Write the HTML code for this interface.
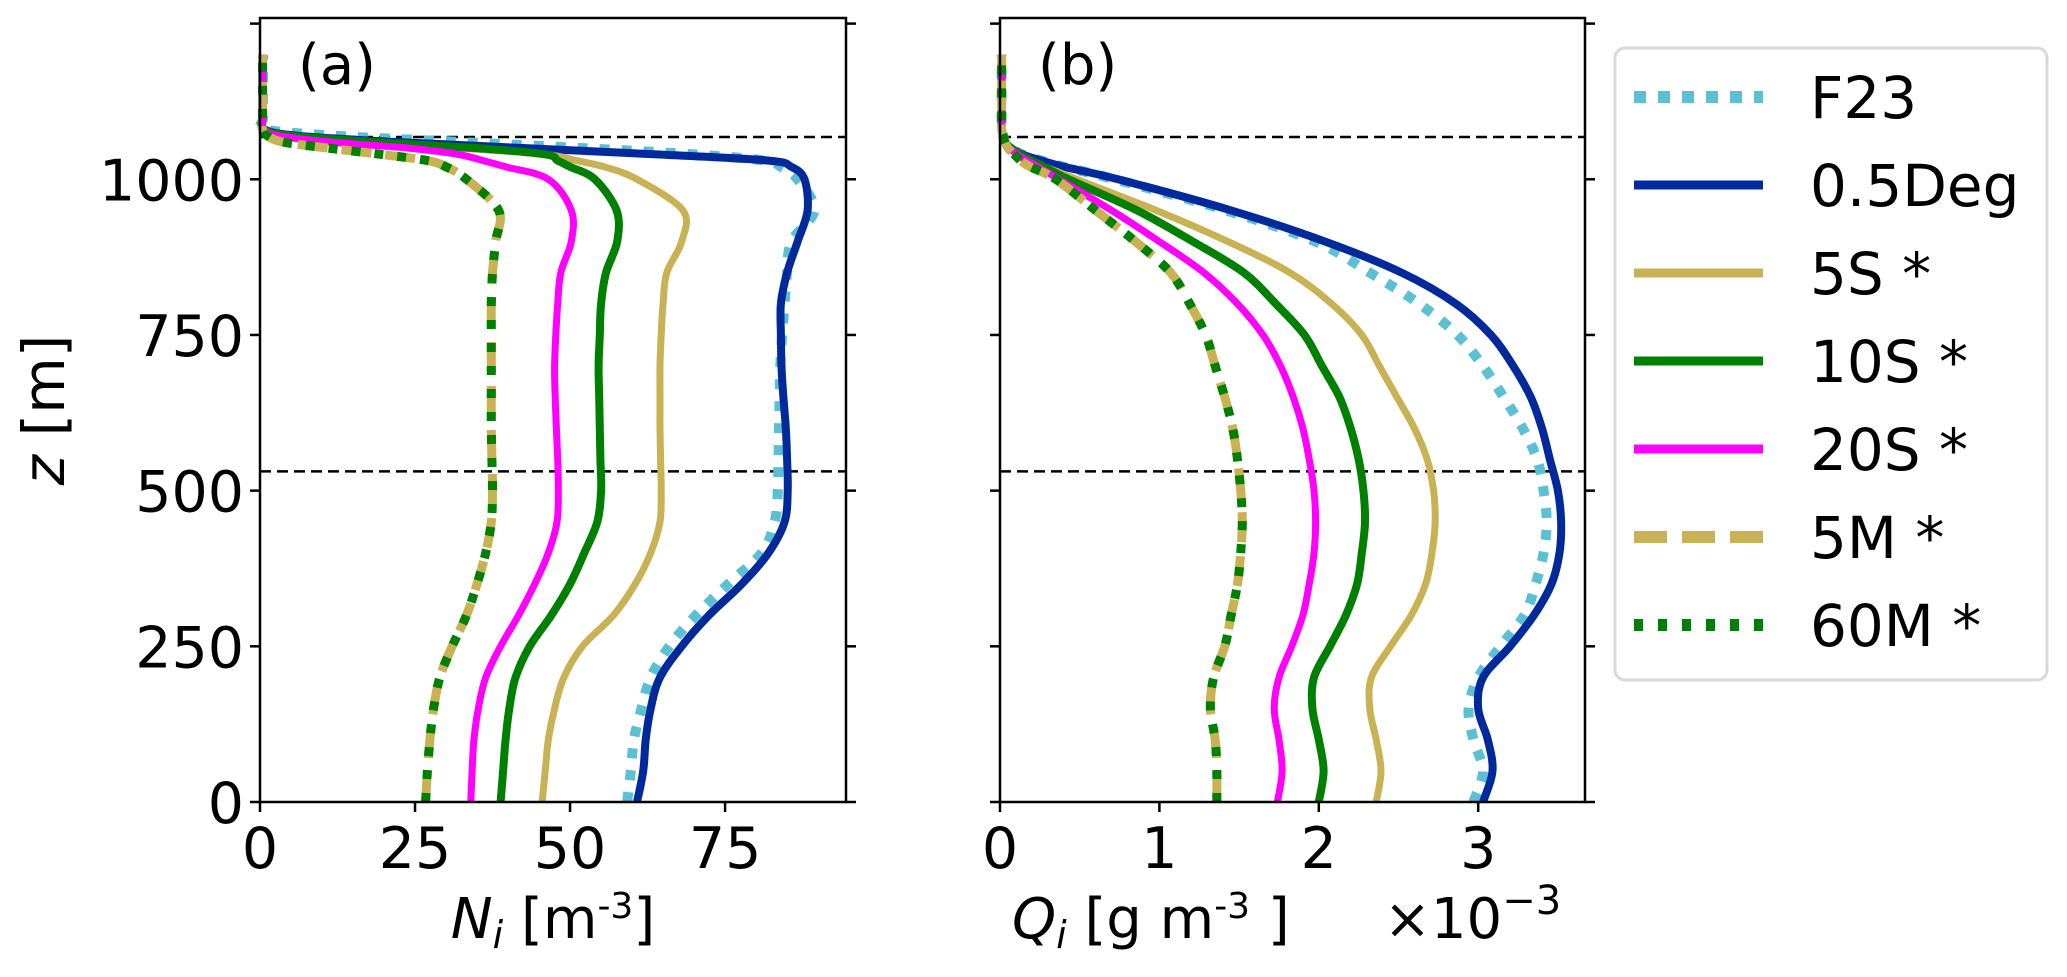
<!DOCTYPE html>
<html><head><meta charset="utf-8">
<style>
html,body{margin:0;padding:0;background:#fff;}
svg{display:block;font-family:"DejaVu Sans","Liberation Sans",sans-serif;}
</style></head>
<body>
<svg id="chart" width="2067" height="977" viewBox="0 0 2067 977" xmlns="http://www.w3.org/2000/svg">
<rect x="0" y="0" width="2067" height="977" fill="#fff"/>
<g id="panelA"></g>
<g id="panelB"></g>
<g id="legend"></g>
<text x="48" y="410" font-size="58" text-anchor="middle" transform="rotate(-90 48 410)" dominant-baseline="middle"><tspan font-style="italic">z</tspan> [m]</text>
<text x="553" y="938" font-size="56" text-anchor="middle"><tspan font-style="italic">N</tspan><tspan font-style="italic" font-size="38" dy="10">i</tspan><tspan dy="-10"> [m</tspan><tspan font-size="36" dy="-20">-3</tspan><tspan dy="20">]</tspan></text>
<text x="1012" y="938" font-size="56"><tspan font-style="italic">Q</tspan><tspan font-style="italic" font-size="38" dy="10">i</tspan><tspan dy="-10"> [g m</tspan><tspan font-size="36" dy="-20">-3</tspan><tspan dy="20"> ]</tspan></text>
<text x="1384" y="938" font-size="56">×10<tspan font-size="40" dy="-24">−3</tspan></text>
</svg>
<script>
// ---- data ----
const zLevels = [0,50,100,150,200,250,300,350,400,450,500,550,600,650,700,750,800,850,900,950,1000,1020,1030,1040,1050,1060,1070,1080,1100,1150,1200];
const seriesNames = ["F23","0.5Deg","5S *","10S *","20S *","5M *","60M *"];
// Panel (a): N_i [m^-3]
const nF23  = [59.2,59.8,60.3,61.5,63,66,70.3,75.5,80.9,83,83.5,83.6,83.7,83.8,83.9,84.2,84.6,85,85.7,89.4,86.7,84,81.4,70,52,32,12,1,0.5,0.5,0.5];
const nDeg  = [60.8,61.8,62.2,63,64.5,68,72.4,77.7,82,84.6,85.1,85,84.8,84.4,84.1,84,84,85,86.7,88.3,87.8,85.7,82,64,42.8,21.6,6,0.8,0.4,0.4,0.4];
const n5S   = [45.5,46,46.5,47.5,49,52,57,60.5,63,64.5,64.7,64.6,64.5,64.5,64.5,64.7,65,65.6,68,68.2,60.8,55.5,51,46,32,11,3,0.6,0.4,0.4,0.4];
const n10S  = [38.8,39.2,39.6,40.2,41.2,43.5,47,50,52.3,54.4,55,54.9,54.8,54.7,54.6,54.8,55,55.8,57.6,57.5,54,50,48,46,35,18,5,0.6,0.4,0.4,0.4];
const n20S  = [34,34.2,34.5,35.2,36.4,38.8,41.7,44.3,46.5,47.9,48.1,48,47.8,47.6,47.5,47.7,48,48.5,50.2,50.2,46.5,39.6,36,32,24,11,3,0.6,0.4,0.4,0.4];
const n5M   = [26.7,27,27.4,28,29,31,33.3,35,36.4,37.3,37.5,37.4,37.3,37.3,37.3,37.3,37.3,37.5,38,38.5,33.3,30,27,19.5,11,3.6,1.2,0.4,0.4,0.4,0.4];
const n60M  = [26.7,27,27.4,28,29,31,33.3,35,36.4,37.3,37.5,37.4,37.3,37.3,37.3,37.3,37.3,37.5,38,38.5,33.3,30,27,19.5,11,3.6,1.2,0.4,0.4,0.4,0.4];
// Panel (b): Q_i [g m^-3] x 1e-3
const qF23  = [2.97,3.03,2.97,2.94,3.0,3.14,3.29,3.36,3.41,3.43,3.41,3.37,3.28,3.16,3.03,2.87,2.63,2.32,1.98,1.42,0.72,0.4,0.26,0.14,0.07,0.03,0.02,0.01,0.01,0.01,0.01];
const qDeg  = [3.03,3.09,3.06,3.0,3.03,3.2,3.35,3.46,3.51,3.52,3.5,3.45,3.4,3.33,3.22,3.08,2.86,2.52,2.04,1.45,0.74,0.4,0.26,0.14,0.07,0.03,0.02,0.01,0.01,0.01,0.01];
const q5S   = [2.36,2.39,2.36,2.32,2.33,2.45,2.58,2.67,2.71,2.73,2.72,2.68,2.6,2.49,2.38,2.27,2.08,1.82,1.43,0.98,0.48,0.28,0.16,0.1,0.06,0.03,0.02,0.01,0.01,0.01,0.01];
const q10S  = [2.0,2.03,2.0,1.96,1.97,2.07,2.17,2.24,2.27,2.29,2.28,2.25,2.2,2.13,2.02,1.91,1.73,1.53,1.21,0.86,0.43,0.28,0.2,0.13,0.07,0.03,0.02,0.01,0.01,0.01,0.01];
const q20S  = [1.74,1.77,1.75,1.72,1.75,1.83,1.9,1.94,1.97,1.98,1.97,1.94,1.9,1.84,1.76,1.65,1.49,1.28,1.0,0.7,0.37,0.24,0.17,0.11,0.06,0.03,0.02,0.01,0.01,0.01,0.01];
const q5M   = [1.36,1.36,1.35,1.32,1.34,1.41,1.45,1.49,1.51,1.52,1.51,1.49,1.46,1.41,1.35,1.29,1.19,1.07,0.85,0.6,0.35,0.19,0.13,0.09,0.05,0.03,0.02,0.01,0.01,0.01,0.01];
const q60M  = [1.36,1.36,1.35,1.32,1.34,1.41,1.45,1.49,1.51,1.52,1.51,1.49,1.46,1.41,1.35,1.29,1.19,1.07,0.85,0.6,0.35,0.19,0.13,0.09,0.05,0.03,0.02,0.01,0.01,0.01,0.01];
const yTicks = [0,250,500,750,1000,1250];
const yTickLabels = ["0","250","500","750","1000",""];
const xTicksA = [0,25,50,75];
const xTicksB = [0,1,2,3];
const refLines = [1068,531];

// ---- styles ----
const styles = [
  {color:"#5bc0d3", w:10, dash:"10 12", cap:"butt"},
  {color:"#00299b", w:8, dash:null},
  {color:"#c8b253", w:7, dash:null},
  {color:"#008000", w:8, dash:null},
  {color:"#ff00ff", w:7, dash:null},
  {color:"#c8b253", w:9, dash:"30 14"},
  {color:"#008000", w:9, dash:"9 14"}
];
const NS = "http://www.w3.org/2000/svg";
function el(tag, attrs, parent){const e=document.createElementNS(NS,tag);for(const k in attrs)e.setAttribute(k,attrs[k]);parent.appendChild(e);return e;}

const plotTop=18, plotBot=802, zMax=1259;
function yScale(z){return plotBot-(z/zMax)*(plotBot-plotTop);}

function smoothPath(pts){
  let d="M"+pts[0][0].toFixed(1)+","+pts[0][1].toFixed(1);
  for(let i=0;i<pts.length-1;i++){
    const p0=pts[i-1]||pts[i],p1=pts[i],p2=pts[i+1],p3=pts[i+2]||p2;
    const c1=[p1[0]+(p2[0]-p0[0])/6,p1[1]+(p2[1]-p0[1])/6];
    const c2=[p2[0]-(p3[0]-p1[0])/6,p2[1]-(p3[1]-p1[1])/6];
    d+=" C"+c1[0].toFixed(1)+","+c1[1].toFixed(1)+" "+c2[0].toFixed(1)+","+c2[1].toFixed(1)+" "+p2[0].toFixed(1)+","+p2[1].toFixed(1);
  }
  return d;
}

function drawPanel(g, left, right, xMax, xTicks, series, label, key){
  const xScale=v=>left+(v/xMax)*(right-left);
  refLines.forEach((z,i)=>{
    const l=el("line",{x1:left,x2:right,y1:yScale(z),y2:yScale(z),stroke:"#000","stroke-width":2.5,"stroke-dasharray":"11 6"},g);
    
    
  });
  series.forEach((vals,si)=>{
    const pts=vals.map((v,i)=>[xScale(v),yScale(zLevels[i])]);
    const st=styles[si];
    const p=el("path",{d:smoothPath(pts),fill:"none",stroke:st.color,"stroke-width":st.w,"stroke-linejoin":"round","stroke-linecap":st.cap||"butt"},g);
    if(st.dash)p.setAttribute("stroke-dasharray",st.dash);
    
    
  });
  const fr=el("rect",{x:left,y:plotTop,width:right-left,height:plotBot-plotTop,fill:"none",stroke:"#000","stroke-width":2.5},g);
  
  
  xTicks.forEach(t=>{
    const x=xScale(t);
    el("line",{x1:x,x2:x,y1:plotBot,y2:plotBot+10,stroke:"#000","stroke-width":2.5},g);
    const tx=el("text",{x:x,y:868,"font-size":57,"text-anchor":"middle"},g);
    tx.textContent=String(t);
    
    
  });
  yTicks.forEach((t,i)=>{
    const y=yScale(t);
    el("line",{x1:left-10,x2:left,y1:y,y2:y,stroke:"#000","stroke-width":2.5},g);
    el("line",{x1:right,x2:right+10,y1:y,y2:y,stroke:"#000","stroke-width":2.5},g);
    if(key==="a" && yTickLabels[i]){
      const tx=el("text",{x:left-16,y:y+21,"font-size":57,"text-anchor":"end"},g);
      tx.textContent=yTickLabels[i];
      
      
    }
  });
  const pl=el("text",{x:left+38,y:84,"font-size":56},g);
  pl.textContent=label;
  
  
}

drawPanel(document.getElementById("panelA"),260,846,94.5,xTicksA,[nF23,nDeg,n5S,n10S,n20S,n5M,n60M],"(a)","a");
drawPanel(document.getElementById("panelB"),1000,1585,3.67,xTicksB,[qF23,qDeg,q5S,q10S,q20S,q5M,q60M],"(b)","b");

// legend
const lg=document.getElementById("legend");
const box=el("rect",{x:1615,y:48,width:432,height:632,rx:10,fill:"#fff",stroke:"#d9d9d9","stroke-width":3},lg);


seriesNames.forEach((n,i)=>{
  const y=97+i*88, st=styles[i];
  const ln=el("line",{x1:1634,x2:1763,y1:y,y2:y,stroke:st.color,"stroke-width":st.dash?12:9},lg);
  if(st.dash)ln.setAttribute("stroke-dasharray",i===0?"12 12":(i===5?"33 15":"9 15"));
  
  
  const t=el("text",{x:1810,y:y+21,"font-size":58},lg);
  t.textContent=n;
  
  
});
</script>
</body></html>
